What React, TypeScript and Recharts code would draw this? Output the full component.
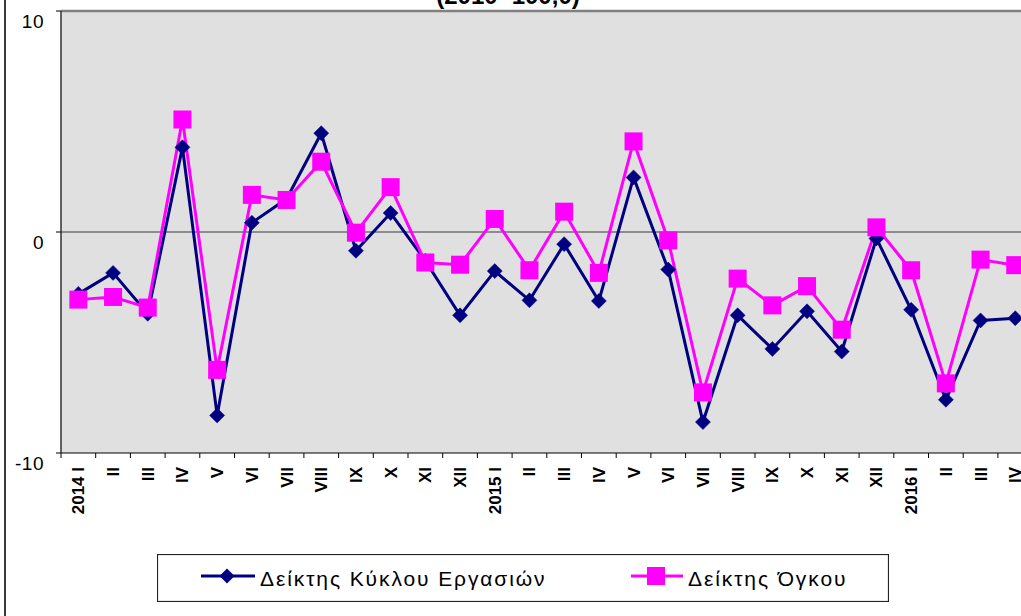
import React from "react";
import { LineChart, Line, XAxis, YAxis, CartesianGrid, ReferenceLine, Legend } from "recharts";

const categories = [
  "2014 I", "II", "III", "IV", "V", "VI", "VII", "VIII", "IX", "X", "XI", "XII",
  "2015 I", "II", "III", "IV", "V", "VI", "VII", "VIII", "IX", "X", "XI", "XII",
  "2016 I", "II", "III", "IV",
];
const turnoverIndex = [
  -2.8, -1.85, -3.7, 3.83, -8.3, 0.42, 1.5, 4.47, -0.85, 0.86, -1.3, -3.77,
  -1.77, -3.09, -0.55, -3.12, 2.47, -1.7, -8.6, -3.77, -5.29, -3.59, -5.41, -0.29,
  -3.52, -7.59, -4.0, -3.9,
];
const volumeIndex = [
  -3.06, -2.94, -3.42, 5.09, -6.24, 1.68, 1.45, 3.18, -0.03, 2.03, -1.38, -1.48,
  0.59, -1.73, 0.92, -1.85, 4.1, -0.38, -7.26, -2.11, -3.32, -2.45, -4.42, 0.21,
  -1.73, -6.85, -1.25, -1.5,
];
const yTicks = [-10, 0, 10];
const seriesNames = ["Δείκτης Κύκλου Εργασιών", "Δείκτης Όγκου"];
const titleText = "(2010=100,0)";

const data = categories.map((c, i) => ({ label: c, turnover: turnoverIndex[i], volume: volumeIndex[i] }));

const NAVY = "#000080";
const PINK = "#FF00FF";
const FONT = "'Liberation Sans', Arial, sans-serif";

const CHART_W = 1040;
const CHART_H = 616;
const MARGIN = { top: 11, right: 7.4, left: 0, bottom: 0 };
const Y_W = 61;
const PLOT_W = CHART_W - MARGIN.right - MARGIN.left - Y_W;
const BAND = PLOT_W / categories.length;

const Diamond = (props: any) => {
  const { cx, cy } = props;
  if (cx == null || cy == null) return null;
  const r = 7.5;
  return <polygon points={`${cx},${cy - r} ${cx + r},${cy} ${cx},${cy + r} ${cx - r},${cy}`} fill={NAVY} stroke={NAVY} strokeWidth={0.5} />;
};

const Square = (props: any) => {
  const { cx, cy } = props;
  if (cx == null || cy == null) return null;
  const s = 18;
  return <rect x={cx - s / 2} y={cy - s / 2} width={s} height={s} fill={PINK} />;
};

const XTick = (props: any) => {
  const { x, y, payload } = props;
  const left = x - BAND / 2;
  return (
    <g>
      <line x1={left} y1={y} x2={left} y2={y + 5} stroke="#000" strokeWidth={1} />
      <text
        transform={`translate(${x},${y + 14}) rotate(-90)`}
        textAnchor="end"
        dy={6}
        fontFamily={FONT}
        fontWeight="bold"
        fontSize={17}
        fill="#000"
      >
        {payload.value}
      </text>
    </g>
  );
};

const YTick = (props: any) => {
  const { y, payload } = props;
  return (
    <g>
      <line x1={56} y1={y} x2={61} y2={y} stroke="#000" strokeWidth={1} />
      <text x={44} y={y + 17} textAnchor="end" fontFamily={FONT} fontSize={19} letterSpacing={0.5} fill="#000">
        {payload.value}
      </text>
    </g>
  );
};

const LegendBox = () => (
  <svg width={732} height={48} style={{ display: "block" }}>
    <rect x={0.5} y={0.5} width={731} height={47} fill="#fff" stroke="#222" strokeWidth={1.2} />
    <line x1={44} y1={22} x2={98} y2={22} stroke={NAVY} strokeWidth={3} />
    <polygon points="70,14.5 77.5,22 70,29.5 62.5,22" fill={NAVY} />
    <text x={103} y={32} fontFamily={FONT} fontSize={21} letterSpacing={1.9} fill="#000">{seriesNames[0]}</text>
    <line x1={474} y1={22} x2={526} y2={22} stroke={PINK} strokeWidth={3} />
    <rect x={490} y={13} width={18} height={18} fill={PINK} />
    <text x={531} y={32} fontFamily={FONT} fontSize={21} letterSpacing={1.9} fill="#000">{seriesNames[1]}</text>
  </svg>
);

export default function App() {
  return (
    <div style={{ position: "fixed", left: 0, top: 0, width: 1021, height: 616, overflow: "hidden", background: "#fff" }}>
      <div style={{ position: "absolute", left: 4, top: -30, width: 1100, height: 700, border: "2px solid #3a3a3a", boxSizing: "border-box" }} />
      <div
        style={{
          position: "absolute", left: 308, width: 400, top: -16, textAlign: "center",
          fontFamily: FONT, fontWeight: "bold", fontSize: 24, lineHeight: "24px", color: "#000",
        }}
      >
        {titleText}
      </div>
      <div style={{ position: "absolute", left: 0, top: 0 }}>
        <LineChart width={CHART_W} height={CHART_H} data={data} margin={MARGIN}>
          <CartesianGrid horizontal={false} vertical={false} fill="#E0E0E0" />
          <ReferenceLine y={10} stroke="#808080" strokeWidth={2.5} />
          <ReferenceLine y={0} stroke="#707070" strokeWidth={1.5} />
          <XAxis
            dataKey="label"
            interval={0}
            padding={{ left: BAND / 2, right: BAND / 2 }}
            height={CHART_H - 453}
            tickSize={0}
            tickMargin={0}
            tick={<XTick />}
            tickLine={false}
            axisLine={{ stroke: "#000", strokeWidth: 1 }}
          />
          <YAxis
            width={Y_W}
            domain={[-10, 10]}
            ticks={yTicks}
            tick={<YTick />}
            tickLine={false}
            tickSize={0}
            axisLine={{ stroke: "#333", strokeWidth: 1.5 }}
          />
          <Line type="linear" dataKey="turnover" stroke={NAVY} strokeWidth={3} dot={<Diamond />} activeDot={false} isAnimationActive={false} />
          <Line type="linear" dataKey="volume" stroke={PINK} strokeWidth={3} dot={<Square />} activeDot={false} isAnimationActive={false} />
          <Legend
            layout="vertical"
            align="center"
            verticalAlign="middle"
            content={<LegendBox />}
            wrapperStyle={{ left: 157, top: 554, width: 732, height: 48 }}
          />
        </LineChart>
      </div>
    </div>
  );
}
